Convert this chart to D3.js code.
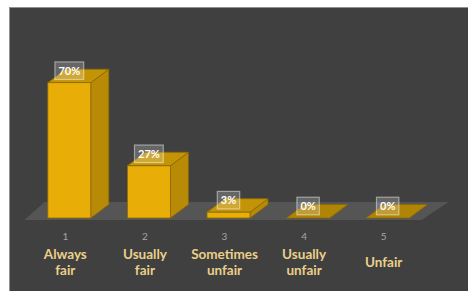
<!DOCTYPE html>
<html>
<head>
<meta charset="utf-8">
<script src="https://cdn.jsdelivr.net/npm/d3@7"></script>
<style>
  body { margin: 0; background: #fff; }
  svg { display: block; }
</style>
</head>
<body>
<div id="chart"></div>
<script>
var width = 468;
var height = 291;

// data
var codes = ["1", "2", "3", "4", "5"];
var categories = ["Always fair", "Usually fair", "Sometimes unfair", "Usually unfair", "Unfair"];
var values = [70, 27, 3, 0, 0];

var data = codes.map(function(c, i) {
  return {code: c, name: categories[i], value: values[i]};
});

var svg = d3.select("#chart")
    .append("svg")
    .attr("width", width)
    .attr("height", height);

// dark panel
svg.append("rect")
    .attr("x", 9.5)
    .attr("y", 7.5)
    .attr("width", width - 9)
    .attr("height", height - 7)
    .attr("fill", "#404040")
    .attr("stroke", "#8a8a8a")
    .attr("stroke-width", 0.7);

var x = d3.scaleBand()
    .domain(codes)
    .range([29.5, 427.5])
    .paddingInner(0.46)
    .paddingOuter(0.23);

var y = d3.scaleLinear()
    .domain([0, 100])
    .range([218, 24.7]);

var dx = 18, dy = 13.5;   // 3d depth

// floor
var fx0 = x.range()[0] - 5, fx1 = x.range()[1] - 6;
svg.append("path")
    .attr("d", "M" + fx0 + "," + (y(0) + 2) + "L" + fx1 + "," + (y(0) + 2) +
      "L" + (fx1 + 27) + "," + (y(0) - 16) + "L" + (fx0 + 20) + "," + (y(0) - 16) + "Z")
    .attr("fill", "#555555");

var bar = svg.selectAll(".bar")
  .data(data)
  .enter().append("g")
    .attr("class", "bar");

// side face
bar.append("path")
    .attr("d", function(d) {
      var x1 = x(d.code) + x.bandwidth(), yt = y(d.value), yb = y(0);
      return "M" + x1 + "," + yt + "L" + (x1 + dx) + "," + (yt - dy) +
        "L" + (x1 + dx) + "," + (yb - dy) + "L" + x1 + "," + yb + "Z";
    })
    .attr("fill", "#b88a05")
    .attr("stroke", "#8c6a04")
    .attr("stroke-width", 0.8)
    .attr("stroke-linejoin", "round");

// top face
bar.append("path")
    .attr("d", function(d) {
      var x0 = x(d.code), x1 = x0 + x.bandwidth(), yt = y(d.value);
      return "M" + x0 + "," + yt + "L" + x1 + "," + yt + "L" + (x1 + dx) + "," + (yt - dy) +
        "L" + (x0 + dx) + "," + (yt - dy) + "Z";
    })
    .attr("fill", function(d) { return d.value > 0 ? "#c39406" : "#b08405"; })
    .attr("stroke", "#8c6a04")
    .attr("stroke-width", 0.8)
    .attr("stroke-linejoin", "round");

// front face
bar.filter(function(d) { return d.value > 0; })
  .append("rect")
    .attr("x", function(d) { return x(d.code); })
    .attr("y", function(d) { return y(d.value); })
    .attr("width", x.bandwidth())
    .attr("height", function(d) { return y(0) - y(d.value); })
    .attr("fill", "#e8ae07")
    .attr("stroke", "#8c6a04")
    .attr("stroke-width", 0.8);

// value labels
var lab = bar.append("g")
    .attr("transform", function(d) {
      return "translate(" + (x(d.code) + x.bandwidth() / 2) + "," + (y(d.value) - dy + 1.5) + ")";
    });

lab.append("text")
    .attr("text-anchor", "middle")
    .attr("dy", "0.35em")
    .attr("fill", "#ffffff")
    .style("font", "bold 11px Lato, 'Open Sans', sans-serif")
    .text(function(d) { return d.value + "%"; })
    .each(function() {
      var b = this.getBBox();
      d3.select(this.parentNode).insert("rect", "text")
        .attr("x", b.x - 3.5)
        .attr("y", -8.8)
        .attr("width", b.width + 7)
        .attr("height", 17.6)
        .attr("fill", "rgba(255,255,255,0.2)")
        .attr("stroke", "rgba(255,255,255,0.45)")
        .attr("stroke-width", 1.2);
    });

// axis numbers
svg.selectAll(".code")
  .data(data)
  .enter().append("text")
    .attr("class", "code")
    .attr("x", function(d) { return x(d.code) + x.bandwidth() / 2 - 4; })
    .attr("y", 240)
    .attr("text-anchor", "middle")
    .attr("fill", "#a6a6a6")
    .style("font", "10px Lato, 'Open Sans', sans-serif")
    .text(function(d) { return d.code; });

// category names
var names = svg.selectAll(".name")
  .data(data)
  .enter().append("text")
    .attr("class", "name")
    .attr("text-anchor", "middle")
    .attr("fill", "#ead089")
    .style("font", "bold 13.5px Lato, 'Open Sans', sans-serif");

names.each(function(d) {
  var words = d.name.split(" ");
  var cx = x(d.code) + x.bandwidth() / 2 - 4;
  var y0 = 262 - (words.length - 1) * 8;
  d3.select(this).selectAll("tspan")
    .data(words)
    .enter().append("tspan")
      .attr("x", cx)
      .attr("y", function(w, i) { return y0 + i * 16; })
      .attr("dy", "0.35em")
      .text(function(w) { return w; });
});
</script>
</body>
</html>
